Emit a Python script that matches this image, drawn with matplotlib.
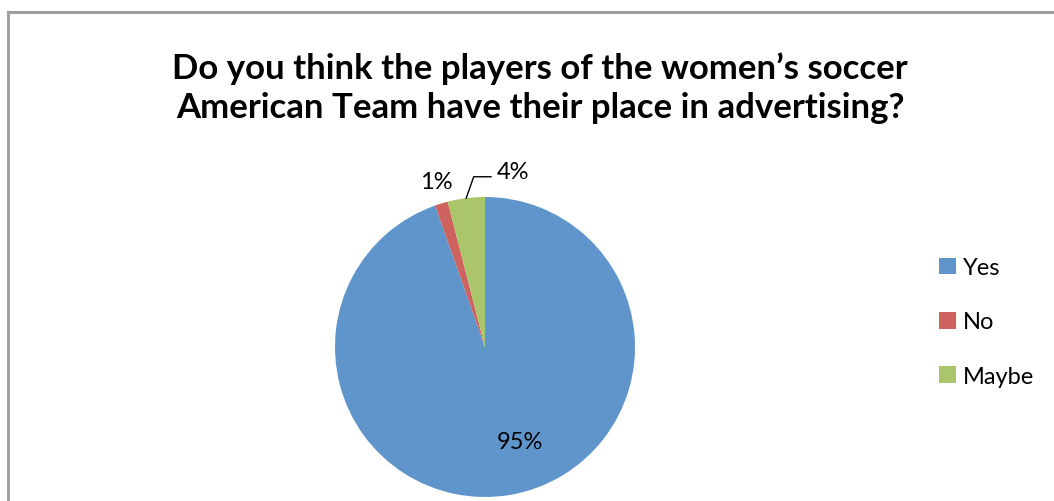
import numpy as np
import matplotlib.pyplot as plt
from matplotlib.lines import Line2D
from matplotlib.patches import Patch

title = "Do you think the players of the women\u2019s soccer\nAmerican Team have their place in advertising?"
categories = ["Yes", "No", "Maybe"]
values = [94.6, 1.4, 4.0]
colors = ["#6095CB", "#CD625E", "#ABC56B"]

plt.rcParams['font.family'] = ['Lato', 'DejaVu Sans']

fig = plt.figure(figsize=(10.54, 5.02), dpi=100)

# chart border (runs off the right and bottom edge)
fig.add_artist(Line2D([7.5 / 1054, 1.01], [1 - 12.5 / 502] * 2, color="#a0a0a0", lw=2.2))
fig.add_artist(Line2D([7.5 / 1054] * 2, [1 - 12.5 / 502, -0.01], color="#a0a0a0", lw=2.2))

fig.text(540 / 1054, 1 - 88 / 502, title, ha="center", va="center",
         fontsize=25, fontweight="bold", linespacing=1.25)

ax = fig.add_axes([335 / 1054, 4 / 502, 300 / 1054, 300 / 502])
wedges, texts, autotexts = ax.pie(values, colors=colors, startangle=90, counterclock=False,
                                  autopct="%.0f%%", pctdistance=0.68,
                                  textprops=dict(fontsize=17))
ax.set_xlim(-1, 1)
ax.set_ylim(-1, 1)
ax.set_aspect("equal")

# big slice label
autotexts[0].set_position((0.233, -0.633))

# small slices labelled outside
autotexts[1].set_position((-0.327, 1.10))
autotexts[2].set_position((0.08, 1.167))
autotexts[2].set_ha("left")

w = wedges[2]
mid = np.deg2rad((w.theta1 + w.theta2) / 2)
x0, y0 = np.cos(mid), np.sin(mid)
ax.plot([x0, x0 + 0.05, 0.04], [y0, 1.135, 1.135], color="black", lw=1, clip_on=False)

handles = [Patch(facecolor=c) for c in colors]
fig.legend(handles, categories, loc="center left", bbox_to_anchor=(918 / 1054, 1 - 323 / 502),
           frameon=False, fontsize=17, handlelength=0.7, handleheight=0.7,
           handletextpad=0.3, labelspacing=1.4)

plt.savefig("out.png", dpi=100)
